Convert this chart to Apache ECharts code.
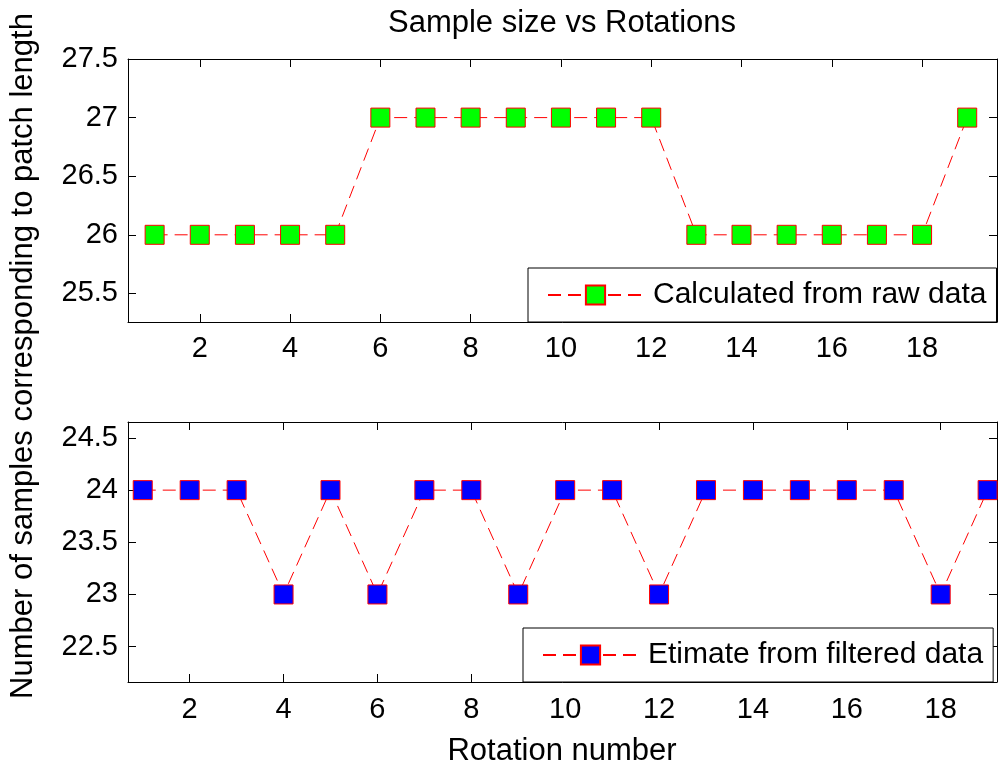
<!DOCTYPE html>
<html>
<head>
<meta charset="utf-8">
<script src="https://cdn.jsdelivr.net/npm/echarts@6/dist/echarts.min.js"></script>
<style>
html,body{margin:0;padding:0;background:#fff;}
#chart{width:998px;height:766px;}
</style>
</head>
<body>
<div id="chart"></div>
<script>
const rotations = [1,2,3,4,5,6,7,8,9,10,11,12,13,14,15,16,17,18,19];
const rawSizes = [26,26,26,26,26,27,27,27,27,27,27,27,26,26,26,26,26,26,27];
const filteredSizes = [24,24,24,23,24,23,24,24,23,24,24,23,24,24,24,24,24,23,24];
const xTicks = [2,4,6,8,10,12,14,16,18];
const yTicksTop = [25.5,26,26.5,27,27.5];
const yTicksBottom = [22.5,23,23.5,24,24.5];
const nameTop = 'Calculated from raw data';
const nameBottom = 'Etimate from filtered data';
const titleText = 'Sample size vs Rotations';
const xName = 'Rotation number';
const yName = 'Number of samples corresponding to patch length';

const FONT = 'Liberation Sans, Arial, sans-serif';
const FS = 29;

function pairs(xs, ys){ return xs.map((x,i)=>[x, ys[i]]); }

function xAxisPair(gi, min, max, margin){
  const base = {
    type:'value', gridIndex:gi, min:min, max:max,
    splitLine:{show:false},
    axisLine:{show:true, onZero:false, lineStyle:{color:'#000', width:1}},
    axisTick:{show:true, inside:true, length:8, customValues:xTicks, lineStyle:{color:'#000'}}
  };
  return [
    Object.assign({}, base, {position:'bottom',
      axisLabel:{show:true, customValues:xTicks, color:'#000', fontSize:FS, fontFamily:FONT, margin:margin}}),
    Object.assign({}, base, {position:'top', axisLabel:{show:false}})
  ];
}
function yAxisPair(gi, min, max, ticks){
  const base = {
    type:'value', gridIndex:gi, min:min, max:max,
    splitLine:{show:false},
    axisLine:{show:true, onZero:false, lineStyle:{color:'#000', width:1}},
    axisTick:{show:true, inside:true, length:8, customValues:ticks, lineStyle:{color:'#000'}}
  };
  return [
    Object.assign({}, base, {position:'left',
      axisLabel:{show:true, customValues:ticks, color:'#000', fontSize:FS, fontFamily:FONT, margin:10}}),
    Object.assign({}, base, {position:'right', axisLabel:{show:false}})
  ];
}

const lineStyle = {color:'#ff0000', width:1, type:[13,7]};

function legendCfg(name, left, top){
  return {
    data:[name], left:left, top:top, orient:'horizontal',
    backgroundColor:'#fff', borderColor:'#000', borderWidth:1, borderRadius:0,
    padding:[12,10,12,19], itemWidth:95, itemHeight:24,
    textStyle:{color:'#000', fontSize:30, fontFamily:FONT, lineHeight:30, padding:[0,0,0,5]},
    selectedMode:false
  };
}

const chart = echarts.init(document.getElementById('chart'), null, {renderer:'canvas'});
const xa = xAxisPair(0, 0.41, 19.66, 12).concat(xAxisPair(1, 0.686, 19.2, 13));
const ya = yAxisPair(0, 25.256, 27.5, yTicksTop).concat(yAxisPair(1, 22.161, 24.653, yTicksBottom));

chart.setOption({
  animation:false,
  backgroundColor:'#fff',
  grid:[
    {left:128, top:59, width:869, height:263},
    {left:128, top:422, width:869, height:260}
  ],
  xAxis:xa,
  yAxis:ya,
  legend:[ legendCfg(nameTop, 528, 268), legendCfg(nameBottom, 523, 628) ],
  series:[
    {name:nameTop, type:'line', xAxisIndex:0, yAxisIndex:0, data:pairs(rotations, rawSizes),
     symbol:'rect', symbolSize:19, showAllSymbol:true, lineStyle:lineStyle,
     itemStyle:{color:'#00ff00', borderColor:'#ff0000', borderWidth:1}},
    {name:nameBottom, type:'line', xAxisIndex:2, yAxisIndex:2, data:pairs(rotations, filteredSizes),
     symbol:'rect', symbolSize:19, showAllSymbol:true, lineStyle:lineStyle,
     itemStyle:{color:'#0000ff', borderColor:'#ff0000', borderWidth:1}}
  ],
  graphic:[
    {type:'text', x:562, y:23, style:{text:titleText, fill:'#000', font:'31px '+FONT, align:'center', verticalAlign:'middle'}},
    {type:'text', x:562, y:751, style:{text:xName, fill:'#000', font:'31px '+FONT, align:'center', verticalAlign:'middle'}},
    {type:'text', x:23, y:356, rotation:Math.PI/2, style:{text:yName, fill:'#000', font:'31px '+FONT, align:'center', verticalAlign:'middle'}}
  ]
});
</script>
</body>
</html>
